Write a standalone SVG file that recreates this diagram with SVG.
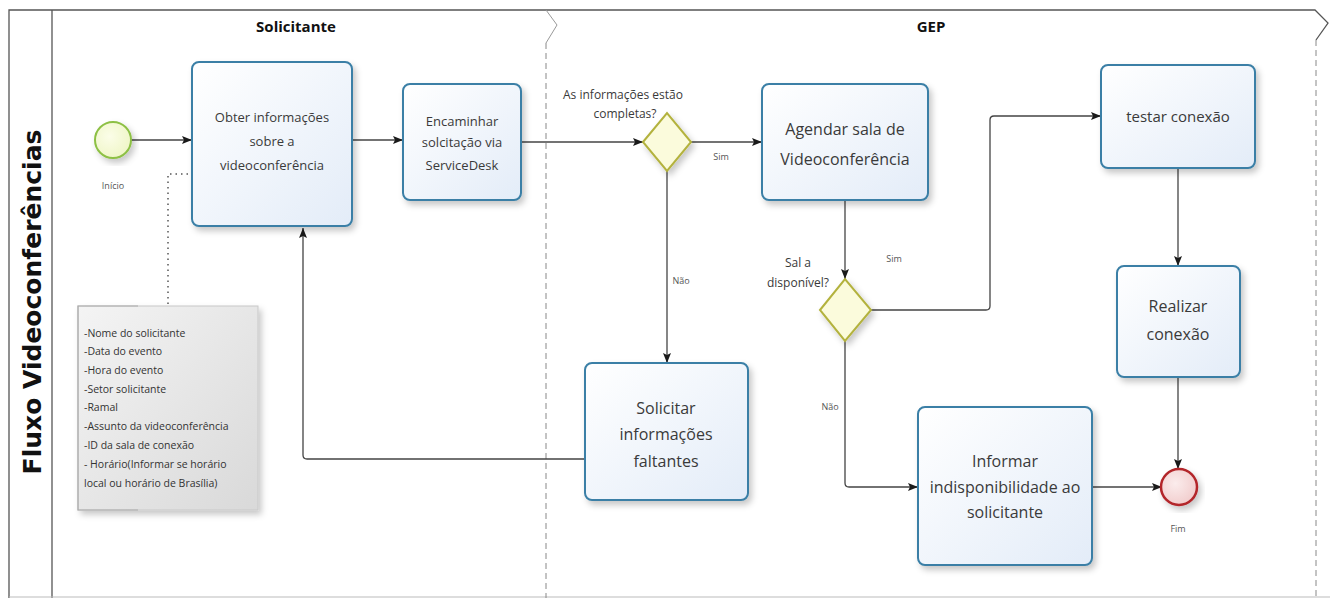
<svg xmlns="http://www.w3.org/2000/svg" width="1330" height="598" viewBox="0 0 1330 598">
<defs>
<linearGradient id="taskFill" x1="0" y1="0" x2="1" y2="1">
<stop offset="0" stop-color="#ffffff"/>
<stop offset="1" stop-color="#e3ecf8"/>
</linearGradient>
<linearGradient id="noteFill" x1="0" y1="0" x2="1" y2="1">
<stop offset="0" stop-color="#f4f4f4"/>
<stop offset="1" stop-color="#d9d9d9"/>
</linearGradient>
<radialGradient id="startFill" cx="0.4" cy="0.4" r="0.7">
<stop offset="0" stop-color="#fbfde8"/>
<stop offset="1" stop-color="#eef5c4"/>
</radialGradient>
<radialGradient id="endFill" cx="0.4" cy="0.4" r="0.7">
<stop offset="0" stop-color="#fbecec"/>
<stop offset="1" stop-color="#f0c9c9"/>
</radialGradient>
<filter id="shadow" x="-10%" y="-10%" width="130%" height="130%">
<feDropShadow dx="3" dy="4" stdDeviation="3" flood-color="#000" flood-opacity="0.22"/>
</filter>
<marker id="arrow" viewBox="0 0 10 10" refX="10" refY="5" markerWidth="10" markerHeight="10" markerUnits="userSpaceOnUse" orient="auto">
<path d="M0,1 L10,5 L0,9 L2,5 z" fill="#1a1a1a"/>
</marker>
<style>
.task{fill:url(#taskFill);stroke:#3a7fa6;stroke-width:2;filter:url(#shadow)}
.gw{fill:#fbfbdc;stroke:#b3b23e;stroke-width:2;filter:url(#shadow)}
.conn{fill:none;stroke:#444;stroke-width:1.3}
.flow{marker-end:url(#arrow)}
.t{font-family:"Open Sans","Noto Sans",sans-serif;fill:#3a3a3a;text-anchor:middle}
.small{font-family:"Open Sans","Noto Sans",sans-serif;fill:#555;font-size:9px;text-anchor:middle}
.lane{font-family:"Open Sans","Noto Sans",sans-serif;font-weight:bold;font-size:15px;fill:#111;text-anchor:middle}
.frame{fill:none;stroke:#555;stroke-width:1.3}
.dash{fill:none;stroke:#888;stroke-width:1;stroke-dasharray:6,4}
.note{font-family:"Open Sans","Noto Sans",sans-serif;font-size:10.5px;fill:#333}
</style>
</defs>
<rect width="1330" height="598" fill="#ffffff"/>

<g id="pool">
<path class="frame" d="M9,598 L9,10 L1315,10 L1328,23 L1316,40"/>
<line class="frame" x1="52" y1="10" x2="52" y2="598"/>
<line x1="9" y1="597" x2="1330" y2="597" stroke="#bbb" stroke-width="1"/>
<path fill="none" stroke="#999" stroke-width="1" d="M546,10 L557,25 L546,43"/>
<line class="dash" x1="546" y1="43" x2="546" y2="598"/>
<line class="dash" x1="1316" y1="40" x2="1316" y2="598"/>
<text x="0" y="0" transform="translate(41,302) rotate(-90)" font-family="DejaVu Sans, Verdana, sans-serif" font-weight="bold" font-size="25" fill="#111" text-anchor="middle">Fluxo Videoconferências</text>
<text class="lane" x="296" y="32">Solicitante</text>
<text class="lane" x="931" y="32">GEP</text>
</g>

<g id="connectors">
<line class="conn flow" x1="131" y1="140" x2="192" y2="140"/>
<line class="conn flow" x1="352" y1="140" x2="403" y2="140"/>
<line class="conn flow" x1="521" y1="142" x2="643" y2="142"/>
<line class="conn flow" x1="691" y1="142" x2="762" y2="142"/>
<text class="small" x="721" y="160">Sim</text>
<line class="conn flow" x1="667" y1="171" x2="667" y2="363"/>
<text class="small" x="681" y="284">Não</text>
<path class="conn flow" d="M585,459 L307,459 Q303,459 303,455 L303,228"/>
<line class="conn flow" x1="845" y1="200" x2="845" y2="279"/>
<path class="conn flow" d="M871,310 L986,310 Q990,310 990,306 L990,120 Q990,116 994,116 L1101,116"/>
<text class="small" x="894" y="262">Sim</text>
<path class="conn flow" d="M845,341 L845,483 Q845,487 849,487 L918,487"/>
<text class="small" x="830" y="410">Não</text>
<line class="conn flow" x1="1178" y1="168" x2="1178" y2="266"/>
<line class="conn flow" x1="1178" y1="377" x2="1178" y2="469"/>
<line class="conn flow" x1="1092" y1="487" x2="1162" y2="487"/>
<path fill="none" stroke="#555" stroke-width="1.5" stroke-dasharray="1.5,4" d="M168,304 L168,174 L192,174"/>
</g>

<g id="start">
<circle cx="113" cy="140" r="18" fill="url(#startFill)" stroke="#8dc044" stroke-width="2" filter="url(#shadow)"/>
<text class="small" x="113" y="189">Início</text>
</g>

<g id="task-obter">
<rect class="task" x="192" y="62" width="160" height="164" rx="7"/>
<text class="t" font-size="13" x="272" y="122">Obter informações</text>
<text class="t" font-size="13" x="272" y="146">sobre a</text>
<text class="t" font-size="13" x="272" y="170">videoconferência</text>
</g>

<g id="task-encaminhar">
<rect class="task" x="403" y="84" width="118" height="116" rx="7"/>
<text class="t" font-size="13" x="462" y="126">Encaminhar</text>
<text class="t" font-size="13" x="462" y="147">solcitação via</text>
<text class="t" font-size="13" x="462" y="170">ServiceDesk</text>
</g>

<g id="gw-completas">
<polygon class="gw" points="643,142 667,113 691,142 667,171"/>
<text class="t" font-size="12" x="623" y="99">As informações estão</text>
<text class="t" font-size="12" x="625" y="118">completas?</text>
</g>

<g id="task-agendar">
<rect class="task" x="762" y="84" width="166" height="116" rx="7"/>
<text class="t" font-size="16" x="845" y="135">Agendar sala de</text>
<text class="t" font-size="16" x="845" y="165">Videoconferência</text>
</g>

<g id="gw-sala">
<polygon class="gw" points="820,310 845,279 871,310 845,341"/>
<text class="t" font-size="12" x="798" y="267">Sal a</text>
<text class="t" font-size="12" x="798" y="287">disponível?</text>
</g>

<g id="task-testar">
<rect class="task" x="1101" y="65" width="154" height="103" rx="7"/>
<text class="t" font-size="15" x="1178" y="122">testar conexão</text>
</g>

<g id="task-realizar">
<rect class="task" x="1117" y="266" width="123" height="111" rx="7"/>
<text class="t" font-size="16" x="1178" y="312">Realizar</text>
<text class="t" font-size="16" x="1178" y="340">conexão</text>
</g>

<g id="task-solicitar">
<rect class="task" x="585" y="363" width="163" height="137" rx="7"/>
<text class="t" font-size="16" x="666" y="414">Solicitar</text>
<text class="t" font-size="16" x="666" y="440">informações</text>
<text class="t" font-size="16" x="666" y="467">faltantes</text>
</g>

<g id="task-informar">
<rect class="task" x="918" y="407" width="174" height="158" rx="7"/>
<text class="t" font-size="16" x="1005" y="467">Informar</text>
<text class="t" font-size="16" x="1005" y="493">indisponibilidade ao</text>
<text class="t" font-size="16" x="1005" y="518">solicitante</text>
</g>

<g id="end">
<circle cx="1179" cy="487" r="18" fill="url(#endFill)" stroke="#b3272c" stroke-width="2.5" filter="url(#shadow)"/>
<text class="small" x="1178" y="532">Fim</text>
</g>

<g id="note">
<rect x="78" y="306" width="180" height="204" fill="url(#noteFill)" stroke="#c8c8c8" stroke-width="1" filter="url(#shadow)"/>
<path d="M138,306 L78,306 L78,510 L138,510" fill="none" stroke="#aaa" stroke-width="1.2"/>
<text class="note" x="84" y="337">-Nome do solicitante</text>
<text class="note" x="84" y="355">-Data do evento</text>
<text class="note" x="84" y="374">-Hora do evento</text>
<text class="note" x="84" y="393">-Setor solicitante</text>
<text class="note" x="84" y="411">-Ramal</text>
<text class="note" x="84" y="430">-Assunto da videoconferência</text>
<text class="note" x="84" y="449">-ID da sala de conexão</text>
<text class="note" x="84" y="468">- Horário(Informar se horário</text>
<text class="note" x="84" y="487">local ou horário de Brasília)</text>
</g>
</svg>
